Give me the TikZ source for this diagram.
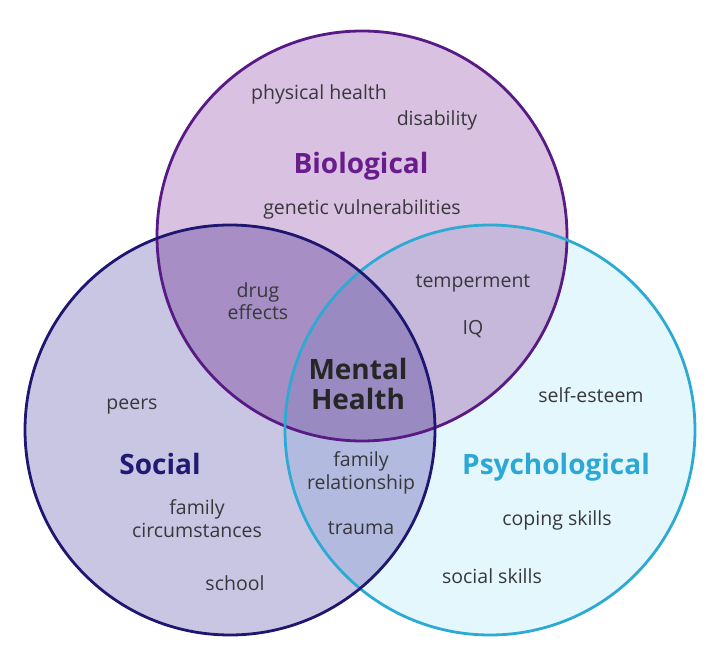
\documentclass[tikz,border=0pt]{standalone}
\usepackage{fontspec}
\setmainfont{Open Sans}
\usetikzlibrary{positioning}

\definecolor{biofill}{RGB}{217,193,225}
\definecolor{socfill}{RGB}{201,198,227}
\definecolor{psyfill}{RGB}{228,247,253}
\definecolor{biosoc}{RGB}{167,143,197}
\definecolor{biopsy}{RGB}{197,184,219}
\definecolor{socpsy}{RGB}{178,187,223}
\definecolor{allthree}{RGB}{153,138,194}
\definecolor{bioline}{RGB}{88,26,132}
\definecolor{socline}{RGB}{30,22,112}
\definecolor{psyline}{RGB}{45,170,212}
\definecolor{biotext}{RGB}{106,28,140}
\definecolor{soctext}{RGB}{32,26,114}
\definecolor{psytext}{RGB}{43,168,214}
\definecolor{itemgray}{RGB}{55,55,60}

\begin{document}
\begin{tikzpicture}[
  x=1pt, y=1pt,
  item/.style={anchor=base, inner sep=0pt, text=itemgray,
    font=\fontsize{19.5}{22.5}\selectfont},
  pair/.style={item, anchor=center, align=center},
  title/.style={anchor=base, inner sep=0pt,
    font=\fontsize{28}{30}\selectfont\bfseries},
  ring/.style={line width=2.8pt}
]
  \useasboundingbox (0,0) rectangle (720,664);
  \coordinate (bio) at (362,428);
  \coordinate (soc) at (230,234);
  \coordinate (psy) at (490,234);
  \def\rad{205}

  % discs and overlaps
  \fill[biofill] (bio) circle (\rad);
  \fill[socfill] (soc) circle (\rad);
  \fill[psyfill] (psy) circle (\rad);
  \begin{scope}
    \clip (bio) circle (\rad);
    \fill[biosoc] (soc) circle (\rad);
    \fill[biopsy] (psy) circle (\rad);
  \end{scope}
  \begin{scope}
    \clip (soc) circle (\rad);
    \fill[socpsy] (psy) circle (\rad);
    \clip (bio) circle (\rad);
    \fill[allthree] (psy) circle (\rad);
  \end{scope}
  \draw[ring, bioline] (bio) circle (\rad);
  \draw[ring, psyline] (psy) circle (\rad);
  \draw[ring, socline] (soc) circle (\rad);

  % biological
  \node[item] (physical) at (319,564) {physical health};
  \node[item] (disability) at (437,538) {disability};
  \node[title, text=biotext] (biological) at (361,490) {Biological};
  \node[item] (genetic) at (362,449) {genetic vulnerabilities};

  % overlaps
  \node[pair] (drug) at (258,363) {drug\\effects};
  \node[item] (temper) at (473,376) {temperment};
  \node[item] (iq) at (473,329) {IQ};
  \node[title, anchor=center, align=center, text=black!85] (mental)
    at (358,280) {Mental\\Health};
  \node[pair] (relation) at (361,191) {family\\relationship};
  \node[item] (trauma) at (361,129) {trauma};

  % social
  \node[item] (peers) at (132,254) {peers};
  \node[title, text=soctext] (social) at (160,189) {Social};
  \node[pair] (circum) at (197,145.5) {family\\circumstances};
  \node[item] (school) at (235,74) {school};

  % psychological
  \node[item] (esteem) at (591,261) {self-esteem};
  \node[title, text=psytext] (psycho) at (556,189) {Psychological};
  \node[item] (coping) at (557,138) {coping skills};
  \node[item] (skills) at (492,81) {social skills};
\end{tikzpicture}
\end{document}
